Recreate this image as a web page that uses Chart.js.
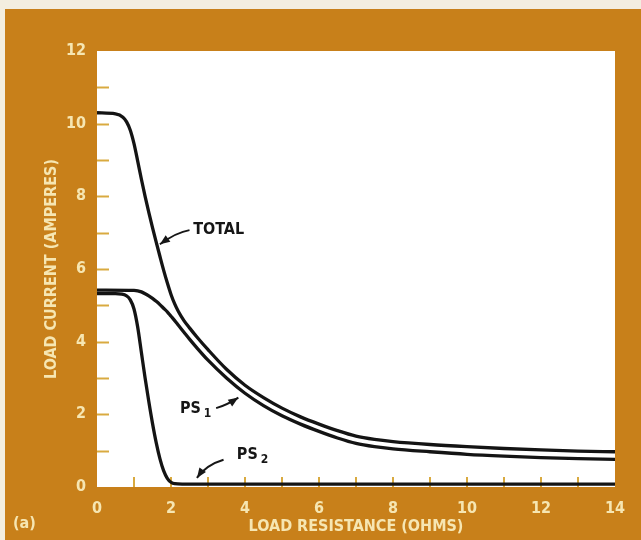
<!DOCTYPE html>
<html><head><meta charset="utf-8">
<script src="https://cdn.jsdelivr.net/npm/chart.js@4.4.1/dist/chart.umd.min.js"></script>
<style>html,body{margin:0;padding:0;background:#f3eee0;}canvas{display:block}</style>
</head><body>
<canvas id="c" width="641" height="540"></canvas>
<script>
// ---- data ----
const totalX = [0, 0.5, 0.7, 0.8, 0.9, 1.0, 1.1, 1.2, 1.3, 1.4, 1.5, 1.6, 1.7, 1.8, 1.9, 2.0, 2.1, 2.2, 2.35, 2.5, 2.7, 3.0, 3.5, 4.0, 4.5, 5.0, 5.5, 6.0, 6.5, 7.0, 7.5, 8, 9, 10, 11, 12, 13, 14];
const totalY = [10.3, 10.27, 10.18, 10.05, 9.82, 9.45, 8.97, 8.47, 8.0, 7.56, 7.14, 6.74, 6.35, 5.97, 5.62, 5.3, 5.04, 4.83, 4.58, 4.38, 4.13, 3.78, 3.24, 2.8, 2.46, 2.17, 1.93, 1.73, 1.55, 1.4, 1.31, 1.25, 1.17, 1.11, 1.06, 1.02, 0.99, 0.97];
const ps1X = [0, 1.0, 1.1, 1.2, 1.3, 1.4, 1.5, 1.6, 1.7, 1.8, 1.9, 2.0, 2.1, 2.2, 2.35, 2.5, 2.7, 3.0, 3.5, 4.0, 4.5, 5.0, 5.5, 6.0, 6.5, 7.0, 7.5, 8, 9, 10, 11, 12, 13, 14];
const ps1Y = [5.42, 5.41, 5.4, 5.37, 5.32, 5.26, 5.19, 5.11, 5.02, 4.92, 4.82, 4.7, 4.58, 4.45, 4.26, 4.07, 3.83, 3.49, 3.0, 2.58, 2.24, 1.96, 1.73, 1.53, 1.35, 1.2, 1.11, 1.05, 0.97, 0.9, 0.85, 0.81, 0.78, 0.76];
const ps2X = [0, 0.5, 0.8, 0.9, 1.0, 1.1, 1.2, 1.3, 1.4, 1.5, 1.6, 1.7, 1.8, 1.9, 2.0, 2.1, 2.3, 14];
const ps2Y = [5.32, 5.32, 5.26, 5.15, 4.9, 4.4, 3.7, 3.0, 2.35, 1.75, 1.22, 0.78, 0.45, 0.24, 0.13, 0.09, 0.08, 0.08];
const xTickValues = [0, 2, 4, 6, 8, 10, 12, 14];
const yTickValues = [0, 2, 4, 6, 8, 10, 12];
const seriesNames = ['TOTAL', 'PS1', 'PS2'];

const pts = (xs, ys) => xs.map((x, i) => ({x, y: ys[i]}));

const ORANGE = '#c8801a';
const CREAM = '#f6e6b2';
const TICKC = '#d9aa40';
const FAM = '"Liberation Sans Narrow", "DejaVu Sans Condensed", "Arial Narrow", sans-serif';

const bgPlugin = {
  id: 'bg',
  beforeDraw(chart) {
    const {ctx, chartArea: a} = chart;
    ctx.save();
    ctx.fillStyle = '#f3eee0';
    ctx.fillRect(0, 0, chart.width, chart.height);
    ctx.fillStyle = ORANGE;
    ctx.fillRect(5, 9, chart.width - 5, chart.height - 9);
    ctx.fillStyle = '#ffffff';
    ctx.fillRect(a.left, a.top, a.right - a.left, a.bottom - a.top);
    ctx.fillStyle = CREAM;
    ctx.font = 'bold 16px ' + FAM;
    ctx.textAlign = 'left';
    ctx.textBaseline = 'middle';
    ctx.fillText('(a)', 13, 524);
    ctx.restore();
  },
  beforeDatasetsDraw(chart) {
    const {ctx, chartArea: a, scales: {x, y}} = chart;
    ctx.save();
    ctx.strokeStyle = TICKC;
    ctx.lineWidth = 2;
    for (let v = 1; v < 12; v++) {
      const py = Math.round(y.getPixelForValue(v)) + 0.5;
      ctx.beginPath(); ctx.moveTo(a.left, py); ctx.lineTo(a.left + 12, py); ctx.stroke();
    }
    for (let v = 1; v < 14; v++) {
      const px = Math.round(x.getPixelForValue(v));
      ctx.beginPath(); ctx.moveTo(px, a.bottom); ctx.lineTo(px, a.bottom - 10); ctx.stroke();
    }
    ctx.restore();
  },
  afterDraw(chart) {
    const {ctx, scales: {x, y}} = chart;
    const notes = chart.options.plugins.bg.notes;
    ctx.save();
    ctx.fillStyle = '#161616';
    ctx.strokeStyle = '#161616';
    notes.forEach(n => {
      const tx = x.getPixelForValue(n.at[0]), ty = y.getPixelForValue(n.at[1]);
      ctx.font = 'bold 16px ' + FAM;
      ctx.textAlign = 'left'; ctx.textBaseline = 'middle';
      ctx.fillText(n.text, tx, ty);
      if (n.sub) {
        const w = ctx.measureText(n.text).width;
        ctx.font = 'bold 12px ' + FAM;
        ctx.fillText(n.sub, tx + w + 3, ty + 5);
      }
      const sx = x.getPixelForValue(n.from[0]), sy = y.getPixelForValue(n.from[1]);
      const ex = x.getPixelForValue(n.to[0]), ey = y.getPixelForValue(n.to[1]);
      const cx = (sx + ex) / 2 + n.bend[0], cy = (sy + ey) / 2 + n.bend[1];
      ctx.lineWidth = 2;
      ctx.beginPath(); ctx.moveTo(sx, sy); ctx.quadraticCurveTo(cx, cy, ex, ey); ctx.stroke();
      const ang = Math.atan2(ey - cy, ex - cx);
      const L = 10, W = 4;
      ctx.beginPath();
      ctx.moveTo(ex, ey);
      ctx.lineTo(ex - L * Math.cos(ang) + W * Math.sin(ang), ey - L * Math.sin(ang) - W * Math.cos(ang));
      ctx.lineTo(ex - L * Math.cos(ang) - W * Math.sin(ang), ey - L * Math.sin(ang) + W * Math.cos(ang));
      ctx.closePath(); ctx.fill();
    });
    ctx.restore();
  }
};

const lineStyle = {borderColor: '#141414', borderWidth: 3.3, pointRadius: 0, fill: false, cubicInterpolationMode: 'monotone'};
const tickFont = {family: FAM, size: 16, weight: 'bold'};

new Chart(document.getElementById('c'), {
  type: 'line',
  data: {
    datasets: [
      Object.assign({label: seriesNames[0], data: pts(totalX, totalY)}, lineStyle),
      Object.assign({label: seriesNames[1], data: pts(ps1X, ps1Y)}, lineStyle),
      Object.assign({label: seriesNames[2], data: pts(ps2X, ps2Y)}, lineStyle)
    ]
  },
  plugins: [bgPlugin],
  options: {
    responsive: false,
    animation: false,
    devicePixelRatio: 1,
    layout: {padding: {top: 51, right: 26, left: 0, bottom: 0}},
    plugins: {
      legend: {display: false},
      tooltip: {enabled: false},
      bg: {
        notes: [
          {text: 'TOTAL', sub: '', at: [2.6, 7.07], from: [2.5, 7.07], to: [1.7, 6.68], bend: [2, -5]},
          {text: 'PS', sub: '1', at: [2.24, 2.16], from: [3.22, 2.17], to: [3.82, 2.46], bend: [0, 2]},
          {text: 'PS', sub: '2', at: [3.78, 0.88], from: [3.42, 0.75], to: [2.7, 0.25], bend: [-4, -4]}
        ]
      }
    },
    scales: {
      x: {
        type: 'linear', min: 0, max: 14,
        afterFit: s => { s.height = 53; },
        afterBuildTicks: s => { s.ticks = xTickValues.map(v => ({value: v})); },
        grid: {display: false, drawTicks: false},
        border: {display: false},
        ticks: {color: CREAM, padding: 12, maxRotation: 0, autoSkip: false, font: tickFont},
        title: {display: true, text: 'LOAD RESISTANCE (OHMS)', color: CREAM, padding: {top: 0, bottom: 4}, font: tickFont}
      },
      y: {
        type: 'linear', min: 0, max: 12,
        afterFit: s => { s.width = 97; },
        afterBuildTicks: s => { s.ticks = yTickValues.map(v => ({value: v})); },
        grid: {display: false, drawTicks: false},
        border: {display: false},
        ticks: {color: CREAM, padding: 11, autoSkip: false, font: tickFont},
        title: {display: true, text: 'LOAD CURRENT (AMPERES)', color: CREAM, padding: {top: 42, bottom: 0}, font: tickFont}
      }
    }
  }
});
</script>
</body></html>
